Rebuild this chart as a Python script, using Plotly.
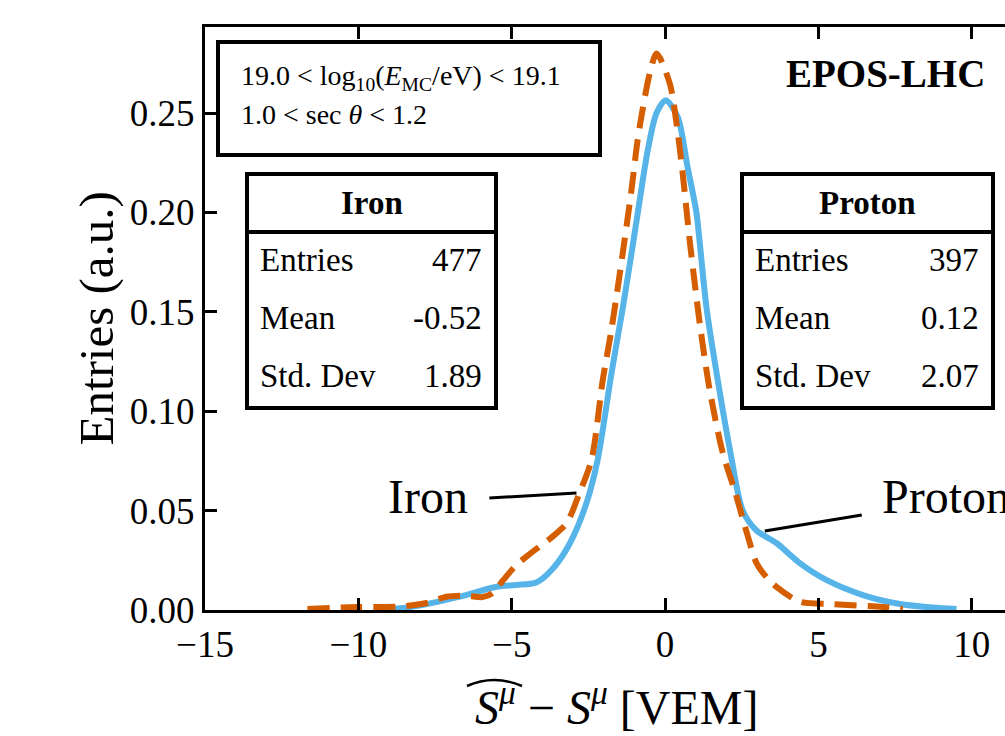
import plotly.graph_objects as go

# Proton distribution (solid blue)
proton_x = [-9.3, -8.2, -6.7, -5.5, -4.85, -4.2, -3.65, -3.1, -2.56, -2.2, -1.75, -1.38,
            -1.06, -0.83, -0.57, -0.28, 0.02, 0.41, 0.73, 1.02, 1.12, 1.35, 1.68, 2.12,
            2.53, 2.98, 3.63, 4.39, 5.27, 6.45, 7.65, 8.73, 9.5]
proton_y = [0.0, 0.0017, 0.0067, 0.0117, 0.0126, 0.0138, 0.021, 0.0337, 0.054, 0.0755,
            0.119, 0.152, 0.183, 0.206, 0.231, 0.250, 0.2565, 0.248, 0.223, 0.200, 0.186,
            0.152, 0.119, 0.080, 0.050, 0.040, 0.0337, 0.0236, 0.015, 0.0075, 0.003,
            0.0012, 0.0005]

# Iron distribution (dashed orange)
iron_x = [-11.66, -10.07, -8.66, -7.78, -7.13, -6.48, -5.95, -5.62, -5.28, -4.85, -4.32,
          -3.67, -3.21, -2.79, -2.4, -2.03, -1.75, -1.35, -1.1, -0.9, -0.72, -0.5, -0.28,
          0.15, 0.37, 0.57, 0.8, 0.86, 1.13, 1.45, 1.88, 2.27, 2.66, 2.98, 3.3, 3.63,
          4.39, 5.47, 7.1, 7.75]
iron_y = [0.0005, 0.0015, 0.0017, 0.0035, 0.0067, 0.0072, 0.0065, 0.0085, 0.015, 0.0226,
          0.0293, 0.0369, 0.0437, 0.0589, 0.0755, 0.116, 0.141, 0.183, 0.211, 0.236, 0.253,
          0.270, 0.280, 0.265, 0.245, 0.220, 0.186, 0.178, 0.144, 0.111, 0.079, 0.060,
          0.039, 0.0236, 0.0166, 0.0116, 0.0042, 0.003, 0.0015, 0.0005]

x_ticks = [-15, -10, -5, 0, 5, 10]
y_ticks = [0.00, 0.05, 0.10, 0.15, 0.20, 0.25]

stat_labels = ["Entries", "Mean", "Std. Dev"]
iron_stats = ["477", "-0.52", "1.89"]
proton_stats = ["397", "0.12", "2.07"]

BLUE = "#56B4E9"
ORANGE = "#D55E00"
SERIF = "Liberation Serif"

fig = go.Figure()
fig.add_trace(go.Scatter(x=proton_x, y=proton_y, mode="lines",
                         line=dict(color=BLUE, width=6, shape="spline", smoothing=0.8),
                         name="Proton"))
fig.add_trace(go.Scatter(x=iron_x, y=iron_y, mode="lines",
                         line=dict(color=ORANGE, width=6, dash="22px,11px",
                                   shape="spline", smoothing=0.8),
                         name="Iron"))

axis_common = dict(showline=True, linecolor="black", linewidth=3, ticks="inside",
                   ticklen=12, tickwidth=3, tickcolor="black", showgrid=False,
                   zeroline=False, tickfont=dict(family=SERIF, size=37, color="black"))

fig.update_xaxes(range=[-15, 11.08], tickvals=x_ticks, mirror="ticks", **axis_common)
fig.update_yaxes(range=[0, 0.2933], tickvals=y_ticks, tickformat=".2f", mirror=False,
                 **axis_common)

shapes = []
annotations = []


def px_x(p):
    return (p - 205) / 800


def px_y(p):
    return (610 - p) / 583


# cut-selection box
shapes.append(dict(type="rect", xref="paper", yref="paper",
                   x0=px_x(218), x1=px_x(600), y0=px_y(155), y1=px_y(42),
                   line=dict(color="black", width=4), fillcolor="white"))
annotations.append(dict(xref="paper", yref="paper", x=px_x(239), y=px_y(77),
                        xanchor="left", yanchor="middle", showarrow=False,
                        text="19.0 < log<sub>10</sub>(<i>E</i><sub>MC</sub>/eV) < 19.1",
                        font=dict(family=SERIF, size=28, color="black")))
annotations.append(dict(xref="paper", yref="paper", x=px_x(239), y=px_y(114),
                        xanchor="left", yanchor="middle", showarrow=False,
                        text="1.0 < sec <i>θ</i> < 1.2",
                        font=dict(family=SERIF, size=28, color="black")))

annotations.append(dict(xref="paper", yref="paper", x=px_x(885), y=px_y(74),
                        xanchor="center", yanchor="middle", showarrow=False,
                        text="<b>EPOS-LHC</b>",
                        font=dict(family=SERIF, size=39, color="black")))


def stats_box(left, right, title, values):
    top, sep, bottom = 174, 232, 408
    shapes.append(dict(type="rect", xref="paper", yref="paper",
                       x0=px_x(left), x1=px_x(right), y0=px_y(bottom), y1=px_y(top),
                       line=dict(color="black", width=4), fillcolor="white"))
    shapes.append(dict(type="line", xref="paper", yref="paper",
                       x0=px_x(left), x1=px_x(right), y0=px_y(sep), y1=px_y(sep),
                       line=dict(color="black", width=4)))
    annotations.append(dict(xref="paper", yref="paper", x=px_x((left + right) / 2),
                            y=px_y(203), xanchor="center", yanchor="middle",
                            showarrow=False, text="<b>%s</b>" % title,
                            font=dict(family=SERIF, size=33, color="black")))
    for row, (lab, val) in enumerate(zip(stat_labels, values)):
        yc = px_y(260 + 58 * row)
        annotations.append(dict(xref="paper", yref="paper", x=px_x(left + 11), y=yc,
                                xanchor="left", yanchor="middle", showarrow=False,
                                text=lab, font=dict(family=SERIF, size=33, color="black")))
        annotations.append(dict(xref="paper", yref="paper", x=px_x(right - 12), y=yc,
                                xanchor="right", yanchor="middle", showarrow=False,
                                text=val, font=dict(family=SERIF, size=33, color="black")))


stats_box(247, 496, "Iron", iron_stats)
stats_box(742, 993, "Proton", proton_stats)

# curve labels with pointer lines
shapes.append(dict(type="line", xref="x", yref="y", x0=-5.73, y0=0.0563, x1=-2.89,
                   y1=0.0589, line=dict(color="black", width=3)))
annotations.append(dict(xref="x", yref="y", x=-6.35, y=0.0573, xanchor="right",
                        yanchor="middle", showarrow=False, text="Iron",
                        font=dict(family=SERIF, size=48, color="black")))
shapes.append(dict(type="line", xref="x", yref="y", x0=3.25, y0=0.0397, x1=6.41,
                   y1=0.0478, line=dict(color="black", width=3)))
annotations.append(dict(xref="x", yref="y", x=7.0, y=0.0573, xanchor="left",
                        yanchor="middle", showarrow=False, text="Proton",
                        font=dict(family=SERIF, size=48, color="black")))

# axis titles
annotations.append(dict(xref="paper", yref="paper", x=px_x(96), y=0.5,
                        xanchor="center", yanchor="middle", showarrow=False,
                        textangle=-90, text="Entries (a.u.)",
                        font=dict(family=SERIF, size=49, color="black")))
annotations.append(dict(xref="paper", yref="paper", x=px_x(616), y=px_y(704),
                        xanchor="center", yanchor="middle", showarrow=False,
                        text="<i>S</i><sup><i>μ</i></sup> − <i>S</i><sup><i>μ</i></sup> [VEM]",
                        font=dict(family=SERIF, size=48, color="black")))
# wide hat over the estimated quantity
shapes.append(dict(type="path", xref="paper", yref="paper",
                   path="M %f,%f Q %f,%f %f,%f" % (px_x(467), px_y(686), px_x(494),
                                                   px_y(674), px_x(522), px_y(686)),
                   line=dict(color="black", width=2.5)))

fig.update_layout(width=1005, height=736, margin=dict(l=205, r=0, t=27, b=126),
                  plot_bgcolor="white", paper_bgcolor="white", showlegend=False,
                  shapes=shapes, annotations=annotations)

fig.write_html("out.html")
